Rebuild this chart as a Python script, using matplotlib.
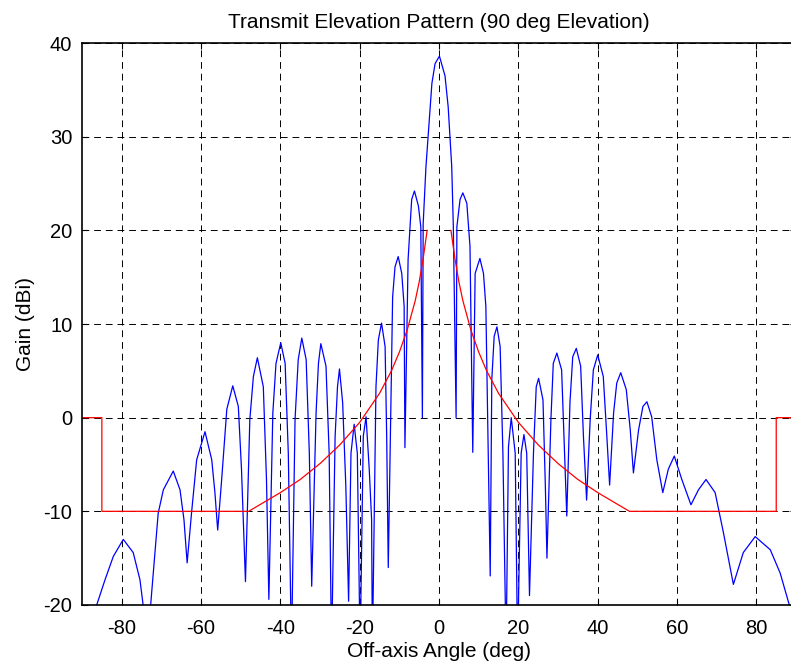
import numpy as np
import matplotlib
matplotlib.use('Agg')
import matplotlib.pyplot as plt

plt.rcParams['font.family'] = ['Liberation Sans', 'DejaVu Sans']
plt.rcParams['axes.unicode_minus'] = False

ang = [-90.0, -86.3, -84.2, -82.1, -79.6, -77.1, -75.4, -74.6, -73.6, -72.7,
       -70.8, -69.5, -67.0, -65.3, -64.3, -63.5,
       -62.4, -61.1, -59.0, -57.3, -56.5, -55.8,
       -54.8, -53.5, -52.0, -50.6, -49.8, -48.8,
       -47.7, -46.8, -45.8, -44.3, -43.5, -42.9,
       -41.9, -41.1, -39.9, -38.8, -38.0, -37.2,
       -36.3, -35.5, -34.6, -33.5, -32.7, -32.1,
       -31.0, -30.4, -29.8, -28.5, -27.7, -27.1,
       -26.2, -25.6, -25.1, -24.3, -23.5, -22.8,
       -22.2, -21.4, -20.6, -19.9,
       -19.1, -18.4, -17.6, -17.0, -16.8,
       -15.9, -15.3, -14.5, -13.6, -13.2, -12.8,
       -11.7, -11.1, -10.3, -9.4, -8.8, -8.6,
       -7.8, -6.9, -6.2, -5.2, -4.6, -4.2,
       -4.0, -3.3, -2.7, -1.8, -1.0, 0.1, 1.5, 2.3, 3.2, 3.6, 4.3,
       4.5, 5.3, 6.0, 7.0, 7.8, 8.5,
       9.1, 10.3, 11.2, 11.8, 12.9,
       13.3, 13.9, 14.6, 15.4, 16.1, 16.9,
       17.5, 18.2, 19.2, 19.8,
       20.7, 21.4, 22.1, 22.8,
       23.8, 24.5, 25.1, 26.2, 26.8, 27.2,
       28.2, 28.8, 29.7, 30.9, 31.5, 32.2,
       33.0, 33.7, 34.6, 35.7, 36.4, 37.2,
       38.1, 38.9, 40.0, 41.4, 42.3, 43.0,
       44.0, 44.8, 45.8, 47.2, 48.2, 49.0,
       50.3, 51.4, 52.4, 53.6, 54.9, 56.4,
       57.8, 59.3, 61.2, 63.5,
       65.4, 67.3, 69.6, 71.7, 74.2,
       76.7, 79.7, 83.5, 86.0, 88.3, 90.0]
gain = [-27.0, -20.0, -17.3, -14.8, -13.0, -14.4, -17.3, -20.0, -30.0, -20.0,
        -10.2, -7.7, -5.7, -7.7, -10.9, -15.5,
        -10.2, -4.5, -1.5, -4.5, -8.0, -12.0,
        -6.6, 0.9, 3.4, 1.2, -5.5, -17.5,
        -0.2, 4.4, 6.4, 3.3, -6.6, -19.4,
        0.5, 5.8, 8.0, 5.8, -3.8, -25.0,
        -0.2, 6.2, 8.5, 6.2, -3.8, -18.0,
        0.5, 5.8, 7.9, 5.5, -3.8, -25.0,
        -2.0, 3.3, 5.2, 1.6, -7.3, -19.6,
        -3.8, -0.7, -3.8, -25.0,
        -2.0, 0.1, -5.5, -10.9, -25.0,
        3.3, 8.3, 10.1, 7.6, -2.0, -16.0,
        12.9, 16.1, 17.2, 15.4, 11.9, -3.2,
        16.9, 23.3, 24.2, 22.6, 20.4, 0.0,
        20.7, 26.8, 30.4, 35.7, 37.8, 38.6, 36.5, 33.2, 26.8, 20.4, 0.0,
        20.4, 23.3, 24.0, 22.9, 18.3, -3.7,
        15.4, 17.0, 15.4, 11.9, -16.9,
        4.1, 8.7, 9.7, 7.6, -3.8, -25.0,
        -3.1, 0.0, -3.8, -25.0,
        -3.8, -1.8, -3.8, -19.0,
        -3.8, 3.3, 4.2, 1.9, -7.3, -15.0,
        -0.2, 5.8, 6.9, 5.1, -2.0, -10.5,
        1.6, 6.5, 7.4, 5.5, -2.0, -8.8,
        -0.2, 5.1, 6.7, 4.4, -2.0, -7.2,
        0.5, 3.7, 4.8, 3.0, -1.3, -5.9,
        -1.3, 1.2, 1.7, 0.1, -4.5, -8.0,
        -5.5, -4.1, -6.6, -9.3,
        -7.7, -6.6, -8.0, -12.3, -17.8,
        -14.4, -12.7, -14.1, -16.6, -20.0, -22.0]

# red: mask, one side, the other side is its mirror
mask_ang = [3, 4, 5, 6, 8, 10, 12, 15, 20, 25, 30, 35, 40, 48, 85, 85, 90]
mask_gain = [20.0, 17.0, 14.5, 12.5, 9.4, 7.0, 5.0, 2.6, -0.5, -2.9, -4.9,
             -6.6, -8.0, -10.0, -10.0, 0.0, 0.0]

fig = plt.figure(figsize=(7.91, 6.66), dpi=100)
ax = fig.add_axes([0.1037, 0.0916, 0.9027, 0.8438])

ax.plot(ang, gain, color='b', lw=0.9)
ax.plot(-np.array(mask_ang), mask_gain, color='r', lw=0.9)
ax.plot(mask_ang, mask_gain, color='r', lw=0.9)

ax.set_xlim(-90, 90)
ax.set_ylim(-20, 40)
ax.set_xticks(np.arange(-80, 81, 20))
ax.set_yticks(np.arange(-20, 41, 10))
ax.grid(True, color='k', lw=0.7, ls=(0, (7, 5)))
ax.tick_params(direction='in', top=True, right=True, length=4, labelsize=14.5)
ax.tick_params(axis='x', pad=10)
ax.tick_params(axis='y', pad=7)
for s in ax.spines.values():
    s.set_linewidth(1.2)

ax.set_title('Transmit Elevation Pattern (90 deg Elevation)', fontsize=15, pad=11)
ax.set_xlabel('Off-axis Angle (deg)', fontsize=15, labelpad=3)
ax.set_ylabel('Gain (dBi)', fontsize=15, labelpad=6)

fig.savefig('out.png', dpi=100)
